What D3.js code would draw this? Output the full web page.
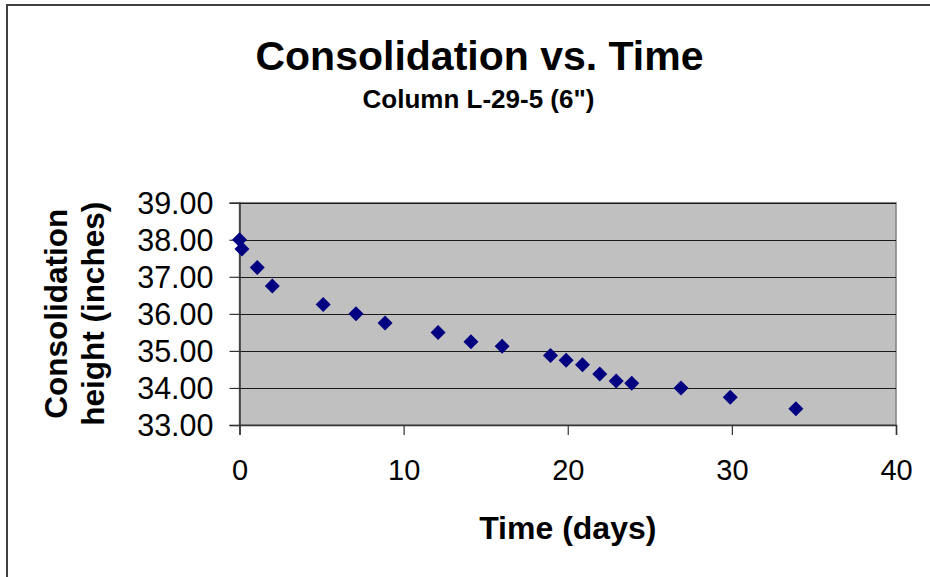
<!DOCTYPE html>
<html>
<head>
<meta charset="utf-8">
<script src="https://cdn.jsdelivr.net/npm/d3@7"></script>
<style>
  html, body { margin: 0; padding: 0; background: #fff; }
  svg { display: block; font-family: "Liberation Sans", Arial, sans-serif; }
</style>
</head>
<body>
<script>
// Consolidation readings for column L-29-5 (6")
const days    = [0, 0.15, 1.08, 2.0, 5.1, 7.1, 8.87, 12.1, 14.1, 16.0, 18.95, 19.9, 20.9, 21.95, 22.95, 23.9, 26.9, 29.9, 33.9];
const heights = [38.00, 37.75, 37.25, 36.75, 36.25, 36.00, 35.75, 35.50, 35.25, 35.125, 34.875, 34.75, 34.625, 34.375, 34.1875, 34.125, 34.00, 33.75, 33.4375];
const xTicks  = [0, 10, 20, 30, 40];
const yTicks  = [33, 34, 35, 36, 37, 38, 39];

const W = 930, H = 577;
const plot = { left: 239.5, right: 896, top: 202.7, bottom: 425 };

const svg = d3.select("body").append("svg").attr("width", W).attr("height", H);

// chart frame
svg.append("rect")
  .attr("x", 7).attr("y", 5).attr("width", 960).attr("height", 620)
  .attr("fill", "#fff").attr("stroke", "#404040").attr("stroke-width", 2);

const x = d3.scaleLinear().domain([0, 40]).range([plot.left, plot.right]);
const y = d3.scaleLinear().domain([33, 39]).range([plot.bottom, plot.top]);

// plot area
svg.append("rect")
  .attr("x", plot.left).attr("y", plot.top)
  .attr("width", plot.right - plot.left).attr("height", plot.bottom - plot.top)
  .attr("fill", "#c0c0c0").attr("stroke", "#808080").attr("stroke-width", 1.5);

// horizontal gridlines
svg.append("g").selectAll("line")
  .data(yTicks.filter(v => v > 33))
  .join("line")
  .attr("x1", plot.left).attr("x2", plot.right)
  .attr("y1", d => Math.round(y(d)) + 0.5).attr("y2", d => Math.round(y(d)) + 0.5)
  .attr("stroke", "#1a1a1a").attr("stroke-width", 1);

// axes
const yAxis = d3.axisLeft(y).tickValues(yTicks).tickSize(10).tickPadding(16)
  .tickFormat(d3.format(".2f"));
const xAxis = d3.axisBottom(x).tickValues(xTicks).tickSize(10).tickPadding(24)
  .tickFormat(d3.format("d"));

const gy = svg.append("g").attr("transform", `translate(${plot.left},0)`).call(yAxis);
const gx = svg.append("g").attr("transform", `translate(0,${plot.bottom})`).call(xAxis);

[gy, gx].forEach(g => {
  g.select(".domain").attr("stroke", "#333").attr("stroke-width", 1.5);
  g.selectAll(".tick line").attr("stroke", "#333").attr("stroke-width", 1.2);
  g.selectAll(".tick text")
    .attr("fill", "#000")
    .style("font-family", "'Liberation Sans', Arial, sans-serif")
    .style("font-size", "29px");
});
gy.selectAll(".tick text").style("font-size", "30.5px").attr("dy", "0.36em");
gx.selectAll(".tick text").attr("dy", "0.71em");

// data markers (diamonds)
const r = 7.5;
svg.append("g").selectAll("path")
  .data(days.map((d, i) => [d, heights[i]]))
  .join("path")
  .attr("d", d => {
    const cx = x(d[0]), cy = y(d[1]);
    return `M${cx},${cy - r}L${cx + r},${cy}L${cx},${cy + r}L${cx - r},${cy}Z`;
  })
  .attr("fill", "#000080");

// titles
svg.append("text")
  .attr("x", 479.5).attr("y", 70)
  .attr("text-anchor", "middle")
  .style("font-size", "41px").style("font-weight", "bold")
  .text("Consolidation vs. Time");

svg.append("text")
  .attr("x", 478.5).attr("y", 107.5)
  .attr("text-anchor", "middle")
  .style("font-size", "26px").style("font-weight", "bold")
  .text("Column L-29-5 (6\")");

svg.append("text")
  .attr("x", (plot.left + plot.right) / 2).attr("y", 539)
  .attr("text-anchor", "middle")
  .style("font-size", "32px").style("font-weight", "bold")
  .text("Time (days)");

const yt = svg.append("text")
  .attr("transform", `translate(67,${(plot.top + plot.bottom) / 2}) rotate(-90)`)
  .attr("text-anchor", "middle")
  .style("font-size", "31.5px").style("font-weight", "bold");
yt.append("tspan").attr("x", 0).attr("y", 0).text("Consolidation");
yt.append("tspan").attr("x", 0).attr("y", 37).text("height (inches)");
</script>
</body>
</html>
